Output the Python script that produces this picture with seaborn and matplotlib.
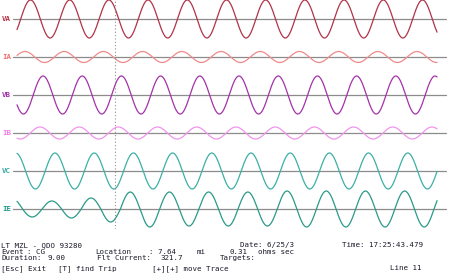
import numpy as np
import pandas as pd
import seaborn as sns
import matplotlib
matplotlib.use("Agg")
import matplotlib.pyplot as plt

# ---------------- data ----------------
channels = ["VA", "IA", "VB", "IB", "VC", "IE"]
# peak amplitude of each trace (screen units: one row half-height = 19)
amp_VA = [19.0]
amp_IA = [5.5]
amp_VB = [19.0]
amp_IB = [6.0]
amp_VC = [18.0]
# IE grows during the fault: one amplitude per half cycle
amp_IE = [10, 8, 8, 9, 11, 13, 17, 18, 17, 17, 17, 17, 17, 17, 18, 18, 18, 18, 18, 18, 18, 18, 18]
# phase angle at t = 0 (degrees)
phase_deg = [-124.0, -73.5, 121.0, 149.0, 11.0, 40.0]
freq_hz = 60.0
record_ms = 178.6
cursor_ms = 41.67

station = "LT MZL - QDO 93280"
date_txt = "Date: 6/25/3"
time_txt = "Time: 17:25:43.479"
event_type = "CG"
location_mi = "7.64"
ohms = "0.31"
duration = "9.00"
flt_current = "321.7"
line_no = "Line 11"

# ---------------- styling ----------------
colors = ["#b03448", "#f08a8a", "#a432a8", "#f094ec", "#3cb0a4", "#2a9a88"]
label_colors = ["#b83044", "#f07070", "#a030a8", "#f080e8", "#30a8a0", "#209888"]
W, H = 463, 276
DPI = 100

sns.set_theme(style="white")
plt.rcParams["font.family"] = ["DejaVu Sans Mono"]

fig = plt.figure(figsize=(W / DPI, H / DPI), dpi=DPI)
fig.patch.set_facecolor("white")

x0_px, x1_px, trace_start_px = 13, 446, 17
px_per_ms = 39.2 / (1000.0 / freq_hz)
xlim = ((x0_px - trace_start_px) / px_per_ms, (x1_px - trace_start_px) / px_per_ms)
row_h = 38

t = np.arange(0, record_ms + 0.05, 0.05)
omega = 2 * np.pi * freq_hz / 1000.0
amps = [amp_VA, amp_IA, amp_VB, amp_IB, amp_VC, amp_IE]

for i, ch in enumerate(channels):
    top = i * row_h
    ax = fig.add_axes([x0_px / W, 1 - (top + row_h) / H, (x1_px - x0_px) / W, row_h / H])
    theta = omega * t + np.deg2rad(phase_deg[i])
    a = np.asarray(amps[i], dtype=float)
    k = np.floor((theta + np.pi / 2) / np.pi).astype(int)
    k = np.clip(k - k[0], 0, len(a) - 1)
    y = a[k] * np.cos(theta)
    df = pd.DataFrame({"t": t, "v": y})
    ax.axhline(0, color="#8c8c8c", lw=0.9, zorder=1)
    sns.lineplot(data=df, x="t", y="v", ax=ax, color=colors[i], lw=0.9,
                 estimator=None, sort=False, zorder=2)
    for ln in ax.lines:
        ln.set_clip_on(False)
    ax.set_xlim(*xlim)
    ax.set_ylim(-19, 19)
    ax.set_axis_off()
    ax.patch.set_alpha(0)
    fig.text(2 / W, 1 - (top + row_h / 2) / H, ch, color=label_colors[i],
             fontsize=5.3, fontweight="bold", va="center", ha="left")

# cursor overlay
axc = fig.add_axes([x0_px / W, 1 - 229 / H, (x1_px - x0_px) / W, 229 / H])
axc.set_xlim(*xlim)
axc.set_ylim(0, 1)
axc.axvline(cursor_ms, color="#909090", lw=0.8, ls=(0, (1, 2)))
axc.set_axis_off()
axc.patch.set_alpha(0)

# bottom status text
tc = "#1a1a2a"
fs = 5.4


def txt(xp, yp, s):
    fig.text(xp / W, 1 - yp / H, s, color=tc, fontsize=fs, va="center", ha="left")


y1, y2, y3, y4 = 245.3, 251.7, 258.0, 268.3
txt(1, y1, station)
txt(240, y1, date_txt)
txt(342, y1, time_txt)
txt(1, y2, "Event")
txt(27, y2, ": " + event_type)
txt(95, y2, "Location")
txt(149, y2, ": " + location_mi)
txt(197, y2, "mi")
txt(230, y2, ohms)
txt(258, y2, "ohms sec")
txt(1, y3, "Duration:")
txt(47, y3, duration)
txt(97, y3, "Flt Current:")
txt(160, y3, flt_current)
txt(220, y3, "Targets:")
txt(1, y4, "[Esc] Exit")
txt(58, y4, "[T] find Trip")
txt(152, y4, "[+][+] move Trace")
txt(390, y4, line_no)

fig.savefig("out.png", dpi=DPI, facecolor="white")
